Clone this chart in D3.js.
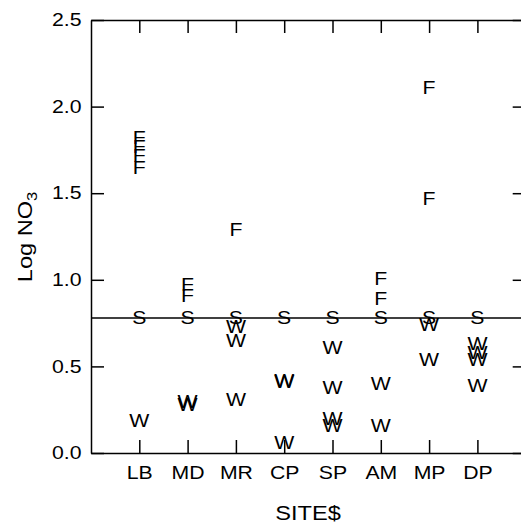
<!DOCTYPE html>
<html>
<head>
<meta charset="utf-8">
<script src="https://cdn.jsdelivr.net/npm/d3@7"></script>
<style>
  body { margin: 0; background: #fff; }
  svg { display: block; font-family: "Liberation Sans", Arial, sans-serif; }
  .axis path, .axis line { stroke: #000; stroke-width: 1.5px; }
  .axis text { font-size: 18px; fill: #000; font-family: "Liberation Sans", Arial, sans-serif; }
</style>
</head>
<body>
<div id="chart"></div>
<script>
// site codes along the x axis
var sites = ["LB", "MD", "MR", "CP", "SP", "AM", "MP", "DP"];

// Log NO3 per site, by season letter
var fallValues   = [[1.82, 1.77, 1.72, 1.65], [0.97, 0.91], [1.29], [], [], [1.01, 0.89], [2.11, 1.47], []];
var springValues = [[0.78], [0.78], [0.78], [0.78], [0.78], [0.78], [0.78], [0.78]];
var winterValues = [[0.19], [0.30, 0.28], [0.73, 0.65, 0.31], [0.42, 0.41, 0.06], [0.61, 0.38, 0.20, 0.16],
                    [0.40, 0.16], [0.74, 0.54], [0.63, 0.58, 0.54, 0.39]];

var refLine = 0.78;
var yTicks = [0, 0.5, 1.0, 1.5, 2.0, 2.5];

var W = 521, H = 524;
var plotLeft = 91, plotTop = 20, plotBottom = 453;
var stretch = 1.18; // the original lettering is a bit wider than Liberation Sans

var x = d3.scaleLinear()
    .domain([0, sites.length + 1])
    .range([plotLeft, plotLeft + 48.3 * (sites.length + 1)]);

var y = d3.scaleLinear()
    .domain([0, 2.5])
    .range([plotBottom, plotTop]);

var svg = d3.select("#chart").append("svg")
    .attr("width", W)
    .attr("height", H);

var siteIdx = d3.range(1, sites.length + 1);

// frame: four axes, ticks pointing inward
var gy = svg.append("g")
    .attr("class", "axis")
    .attr("transform", "translate(" + plotLeft + ",0)")
    .call(d3.axisLeft(y).tickValues(yTicks).tickFormat(d3.format(".1f"))
        .tickSizeInner(-13).tickSizeOuter(0).tickPadding(8));

svg.append("g")
    .attr("class", "axis")
    .attr("transform", "translate(" + x.range()[1] + ",0)")
    .call(d3.axisRight(y).tickValues(yTicks).tickFormat("")
        .tickSizeInner(-13).tickSizeOuter(0));

var gx = svg.append("g")
    .attr("class", "axis")
    .attr("transform", "translate(0," + plotBottom + ")")
    .call(d3.axisBottom(x).tickValues(siteIdx).tickFormat(function (d) { return sites[d - 1]; })
        .tickSizeInner(-13).tickSizeOuter(0).tickPadding(13));

svg.append("g")
    .attr("class", "axis")
    .attr("transform", "translate(0," + plotTop + ")")
    .call(d3.axisTop(x).tickValues(siteIdx).tickFormat("")
        .tickSizeInner(-13).tickSizeOuter(0));

gy.selectAll(".tick text").attr("transform", "scale(" + stretch + ",1)");
gx.selectAll(".tick text").attr("transform", "scale(" + stretch + ",1)");

// reference line
svg.append("line")
    .attr("x1", x(0)).attr("x2", x.range()[1])
    .attr("y1", y(refLine)).attr("y2", y(refLine))
    .style("stroke", "#000")
    .style("stroke-width", "1.5px");

// letter markers
function flatten(arr, letter) {
    var out = [];
    arr.forEach(function (vals, i) {
        vals.forEach(function (v) { out.push({site: i + 1, value: v, letter: letter}); });
    });
    return out;
}

var points = flatten(springValues, "S")
    .concat(flatten(fallValues, "F"))
    .concat(flatten(winterValues, "W"));

svg.selectAll("g.mark")
    .data(points)
  .enter().append("g")
    .attr("class", "mark")
    .attr("transform", function (d) { return "translate(" + x(d.site) + "," + y(d.value) + ")"; })
  .append("text")
    .attr("transform", "scale(" + stretch + ",1)")
    .attr("dy", "0.36em")
    .attr("text-anchor", "middle")
    .style("font-size", "18px")
    .text(function (d) { return d.letter; });

// axis titles
svg.append("text")
    .attr("transform", "translate(308,520) scale(" + stretch + ",1)")
    .attr("text-anchor", "middle")
    .style("font-size", "20px")
    .text("SITE$");

var yl = svg.append("text")
    .attr("transform", "translate(32,237) rotate(-90) scale(" + stretch + ",1)")
    .attr("text-anchor", "middle")
    .style("font-size", "20px");
yl.append("tspan").text("Log NO");
yl.append("tspan").attr("dy", "5").style("font-size", "14px").text("3");
</script>
</body>
</html>
